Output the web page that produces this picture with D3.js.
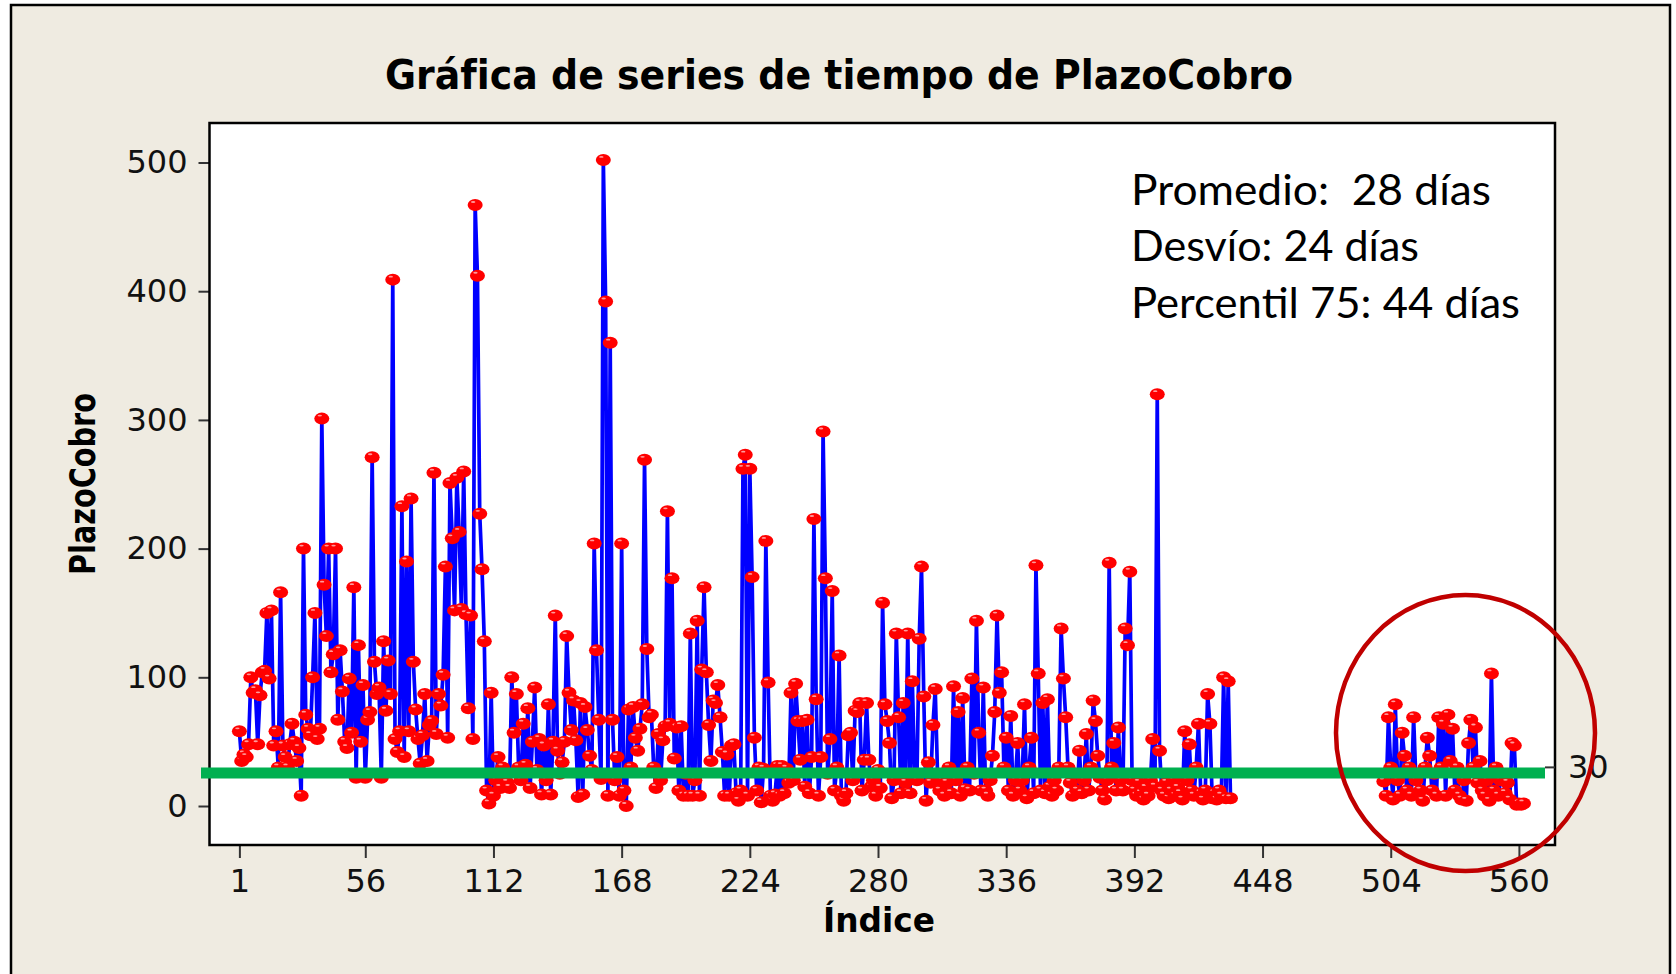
<!DOCTYPE html>
<html lang="es">
<head>
<meta charset="UTF-8">
<title>Gráfica de series de tiempo de PlazoCobro</title>
<script src="https://cdn.jsdelivr.net/npm/d3@7"></script>
<style>
  body { margin: 0; background: #ffffff; }
  svg { display: block; }
  .tick text { font-family: "DejaVu Sans", Verdana, sans-serif; font-size: 32px; fill: #111; }
  .tick line { stroke: #333; stroke-width: 2; }
</style>
</head>
<body>
<div id="chart"></div>
<script>
// PlazoCobro, índices 1..434
const seriesA = [
  58, 35, 40, 38, 48, 100, 88, 90, 48, 86,
  104, 105, 150, 99, 152, 47, 58, 30, 166, 47,
  38, 30, 48, 64, 50, 35, 45, 8, 200, 71,
  60, 55, 100, 150, 52,
  60, 301, 172, 132, 200, 104, 118, 200, 67, 121,
  89, 50, 45, 99, 57, 170, 22, 125, 50, 94,
  22, 67, 73, 271, 112, 87, 92, 22, 128, 74,
  113, 87, 409, 52, 42,
  58, 233, 38, 190, 58, 239, 112, 75, 52, 33,
  55, 87, 35, 63, 66, 259, 56, 87, 78, 102,
  186, 53, 251, 208, 152, 255, 213, 153, 260,
  149, 76, 148, 52, 467, 412, 227, 184, 128, 12, 2,
  88, 8, 20, 38, 14, 30, 22, 18, 14, 100,
  57, 87, 30, 20, 64, 32, 76, 14, 50, 92,
  28, 52, 9, 47, 20, 79, 9, 50, 148, 43,
  25, 34, 50, 132, 88, 59, 82, 51, 7, 80,
  9, 77, 59, 39, 28, 204, 121, 67, 21, 502,
  392, 8, 360, 67, 20, 38, 8, 204, 12, 0,
  75, 30, 77, 53, 43, 60, 79, 269, 122, 69,
  71, 30, 14, 56, 20, 51, 62, 229, 64, 177,
  37, 61, 12, 62, 8, 25, 8, 134, 8, 20,
  144, 8, 106, 170, 104, 63, 35, 82, 80, 94,
  69, 42, 8, 40, 8, 47, 48, 10, 4, 12,
  262, 273, 8, 262, 178, 53, 12, 30, 3, 29,
  206, 96, 8, 4, 9, 31, 8, 31, 10, 29,
  18, 88, 20, 95, 66, 36, 66, 15, 67, 10,
  38, 223, 83, 8, 38, 291, 177, 25, 52, 167,
  12, 30, 117, 8, 4, 10, 55, 57, 20, 74,
  73, 80, 12, 36, 80, 36, 15, 20, 8, 28,
  14, 158, 79, 66, 49, 6, 20, 134, 69, 10,
  80, 18, 134, 10, 97, 25, 20, 130, 186, 85,
  4, 34, 18, 63, 91, 25, 12, 20, 8, 18,
  30, 10, 93, 20, 73, 8, 84, 13, 30, 12,
  99, 25, 144, 57, 12, 92, 12, 8, 20, 39,
  73, 148, 88, 104, 30, 53, 12, 70, 8, 20,
  49, 12, 20, 79, 6, 30, 53, 10, 187, 103,
  12, 80, 10, 83, 15, 8, 20, 12, 30, 138,
  99, 69, 30, 18, 8, 25, 12, 43, 10, 20,
  56, 12, 30, 82, 66, 39, 22, 12, 5, 20,
  189, 30, 49, 12, 61, 20, 12, 138, 125, 182,
  20, 12, 8, 18, 10, 5, 14, 8, 20, 52,
  15, 320, 43, 12, 8, 18, 6, 12, 20, 8,
  14, 10, 5, 58, 20, 48, 12, 8, 30, 64,
  10, 5, 12, 87, 64, 6, 10, 5, 12, 8,
  100, 6, 97, 6
];

// segundo tramo, tras los valores faltantes
const startB = 501;
const seriesB = [
  19, 8, 69, 30, 5, 79, 20, 8, 57, 39,
  12, 30, 8, 69, 20, 25, 12, 4, 30, 53,
  39, 12, 25, 8, 69, 30, 64, 8, 71, 35,
  60, 12, 30, 8, 5, 20, 4, 49, 67, 30,
  61, 18, 35, 12, 8, 20, 4, 103, 12, 30,
  8, 20, 25, 10, 18, 5, 49, 47, 1, 2,
  1, 2
];

const xTicks = [1, 56, 112, 168, 224, 280, 336, 392, 448, 504, 560];
const yTicks = [0, 100, 200, 300, 400, 500];
const refLineValue = 25.6;
const refTickValue = 30;
const refTickLabel = "30";
const statsLines = ["Promedio:  28 días", "Desvío: 24 días", "Percentil 75: 44 días"];
const statsWidths = [360, 288, 389];

const W = 1676, H = 974;
const plot = { left: 209.5, right: 1555, top: 123, bottom: 845 };

const data = seriesA.map((v, i) => ({ i: i + 1, v: v }))
  .concat([{ i: seriesA.length + 1, v: null }])
  .concat(seriesB.map((v, i) => ({ i: startB + i, v: v })));

const svg = d3.select("#chart").append("svg")
  .attr("width", W)
  .attr("height", H);

// fondo y marco exterior
svg.append("rect")
  .attr("x", 11).attr("y", 5)
  .attr("width", 1659).attr("height", H)
  .attr("fill", "#EFEBE1")
  .attr("stroke", "#000").attr("stroke-width", 2.5);

const x = d3.scaleLinear().domain([-12.06, 575.77]).range([plot.left, plot.right]);
const y = d3.scaleLinear().domain([-30.3, 530.7]).range([plot.bottom, plot.top]);

svg.append("rect")
  .attr("x", plot.left).attr("y", plot.top)
  .attr("width", plot.right - plot.left).attr("height", plot.bottom - plot.top)
  .attr("fill", "#fff");

// ejes
svg.append("g")
  .attr("transform", `translate(0,${plot.bottom})`)
  .call(d3.axisBottom(x).tickValues(xTicks).tickFormat(d3.format("d")).tickSize(13).tickSizeOuter(0).tickPadding(11))
  .call(g => g.select(".domain").remove());

svg.append("g")
  .attr("transform", `translate(${plot.left},0)`)
  .call(d3.axisLeft(y).tickValues(yTicks).tickSize(11).tickSizeOuter(0).tickPadding(11))
  .call(g => g.select(".domain").remove());

// serie
const line = d3.line()
  .defined(d => d.v !== null)
  .x(d => x(d.i))
  .y(d => y(d.v));

svg.append("path")
  .datum(data)
  .attr("fill", "none")
  .attr("stroke", "#0000FF")
  .attr("stroke-width", 3.7)
  .attr("stroke-linejoin", "round")
  .attr("d", line);

const pts = svg.append("g").selectAll("g")
  .data(data.filter(d => d.v !== null))
  .enter().append("g")
  .attr("transform", d => `translate(${x(d.i)},${y(d.v)})`);

pts.append("ellipse")
  .attr("rx", 7.5).attr("ry", 6)
  .attr("fill", "#FF0000");

pts.append("ellipse")
  .attr("cx", -2).attr("cy", -3)
  .attr("rx", 2.2).attr("ry", 0.9)
  .attr("fill", "#ff9a9a");

// marco del área de trazado
svg.append("rect")
  .attr("x", plot.left).attr("y", plot.top)
  .attr("width", plot.right - plot.left).attr("height", plot.bottom - plot.top)
  .attr("fill", "none")
  .attr("stroke", "#000").attr("stroke-width", 2.5);

// línea de referencia verde
svg.append("line")
  .attr("x1", 201).attr("x2", 1545)
  .attr("y1", y(refLineValue)).attr("y2", y(refLineValue))
  .attr("stroke", "#00B050").attr("stroke-width", 11);

svg.append("line")
  .attr("x1", 1545).attr("x2", plot.right)
  .attr("y1", y(refTickValue)).attr("y2", y(refTickValue))
  .attr("stroke", "#333").attr("stroke-width", 2);

svg.append("text")
  .attr("x", 1568).attr("y", y(refTickValue))
  .attr("dy", "0.32em")
  .style("font-family", "'DejaVu Sans', Verdana, sans-serif")
  .style("font-size", "32px")
  .attr("fill", "#111")
  .text(refTickLabel);

// círculo rojo
svg.append("ellipse")
  .attr("cx", 1465.5).attr("cy", 733)
  .attr("rx", 129.5).attr("ry", 138)
  .attr("fill", "none")
  .attr("stroke", "#C00000").attr("stroke-width", 4.5);

// títulos
svg.append("text")
  .attr("x", 839).attr("y", 89)
  .attr("text-anchor", "middle")
  .attr("textLength", 908).attr("lengthAdjust", "spacingAndGlyphs")
  .style("font-family", "'DejaVu Sans', Tahoma, sans-serif")
  .style("font-weight", "bold")
  .style("font-size", "41px")
  .text("Gráfica de series de tiempo de PlazoCobro");

svg.append("text")
  .attr("x", 879).attr("y", 932)
  .attr("text-anchor", "middle")
  .attr("textLength", 112).attr("lengthAdjust", "spacingAndGlyphs")
  .style("font-family", "'DejaVu Sans', Tahoma, sans-serif")
  .style("font-weight", "bold")
  .style("font-size", "33px")
  .text("Índice");

svg.append("text")
  .attr("transform", "translate(95,484) rotate(-90)")
  .attr("text-anchor", "middle")
  .attr("textLength", 182).attr("lengthAdjust", "spacingAndGlyphs")
  .style("font-family", "'DejaVu Sans', Tahoma, sans-serif")
  .style("font-weight", "bold")
  .style("font-size", "35px")
  .text("PlazoCobro");

// cuadro de estadísticos
svg.append("g").selectAll("text")
  .data(statsLines)
  .enter().append("text")
  .attr("x", 1131)
  .attr("y", (d, i) => [205, 261, 318][i])
  .attr("textLength", (d, i) => statsWidths[i])
  .attr("lengthAdjust", "spacingAndGlyphs")
  .style("white-space", "pre")
  .style("font-family", "Lato, 'Open Sans', sans-serif")
  .style("font-size", "43px")
  .attr("fill", "#000")
  .text(d => d);
</script>
</body>
</html>
